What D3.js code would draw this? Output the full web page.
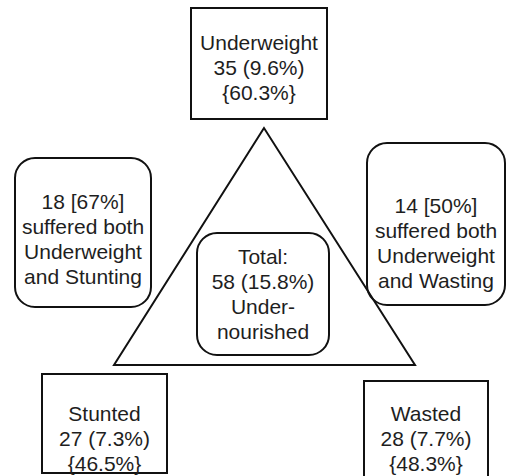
<!DOCTYPE html>
<html>
<head>
<meta charset="utf-8">
<title>Undernourishment diagram</title>
<style>
body { margin: 0; background-color: #ffffff; }
text { font-family: "Liberation Sans", Arial, sans-serif; font-size: 21px; fill: #1e1e1e; }
</style>
</head>
<body>
<script src="https://cdn.jsdelivr.net/npm/d3@7/dist/d3.min.js"></script>
<script>

// data
var categories = ["Underweight", "Stunted", "Wasted"];
var counts = [35, 27, 28];
var pctAll = [9.6, 7.3, 7.7];
var pctUnder = [60.3, 46.5, 48.3];

var overlapPairs = ["Stunting", "Wasting"];
var overlapCounts = [18, 14];
var overlapPct = [67, 50];

var totalCount = 58;
var totalPct = 15.8;

var w = 506;
var h = 476;

// layout scales (diagram units -> px)
var x = d3.scaleLinear().domain([0, 506]).range([0, w]);
var y = d3.scaleLinear().domain([0, 476]).range([0, h]);

var svg = d3.select("body")
            .append("svg")
            .attr("width", w)
            .attr("height", h);

// triangle
var tri = [[264, 128], [114, 365], [415, 365]];
svg.append("path")
   .attr("d", d3.line().x(function(d) { return x(d[0]); }).y(function(d) { return y(d[1]); }).curve(d3.curveLinearClosed)(tri))
   .attr("fill", "none")
   .attr("stroke", "#111")
   .attr("stroke-width", 2);

// boxes: one per category, then the two overlaps, then total
var catBoxes = [
  {x0: 191, y0: 8, x1: 327, y1: 119, ty: 50},
  {x0: 42, y0: 374, x1: 167, y1: 473, ty: 421},
  {x0: 364, y0: 381, x1: 488, y1: 490, ty: 421}
];
var ovBoxes = [
  {x0: 15, y0: 158, x1: 151, y1: 307, ty: 209},
  {x0: 367, y0: 143, x1: 505, y1: 305, ty: 213}
];
var totalBox = {x0: 197, y0: 233, x1: 329, y1: 355, ty: 264};

var lineH = 25;

function drawBox(b, r, lines) {
  var g = svg.append("g");
  g.append("rect")
   .attr("x", x(b.x0))
   .attr("y", y(b.y0))
   .attr("width", x(b.x1) - x(b.x0))
   .attr("height", y(b.y1) - y(b.y0))
   .attr("rx", r)
   .attr("fill", "none")
   .attr("stroke", "#111")
   .attr("stroke-width", 2);
  g.selectAll("text")
   .data(lines)
   .enter()
   .append("text")
   .text(function(d) { return d; })
   .attr("text-anchor", "middle")
   .attr("x", x((b.x0 + b.x1) / 2))
   .attr("y", function(d, i) { return y(b.ty + i * lineH); });
}

categories.forEach(function(c, i) {
  drawBox(catBoxes[i], 0, [c, counts[i] + " (" + pctAll[i] + "%)", "{" + pctUnder[i] + "%}"]);
});

overlapPairs.forEach(function(p, i) {
  drawBox(ovBoxes[i], 20, [overlapCounts[i] + " [" + overlapPct[i] + "%]", "suffered both", "Underweight", "and " + p]);
});

drawBox(totalBox, 20, ["Total:", totalCount + " (" + totalPct + "%)", "Under-", "nourished"]);

</script>
</body>
</html>
